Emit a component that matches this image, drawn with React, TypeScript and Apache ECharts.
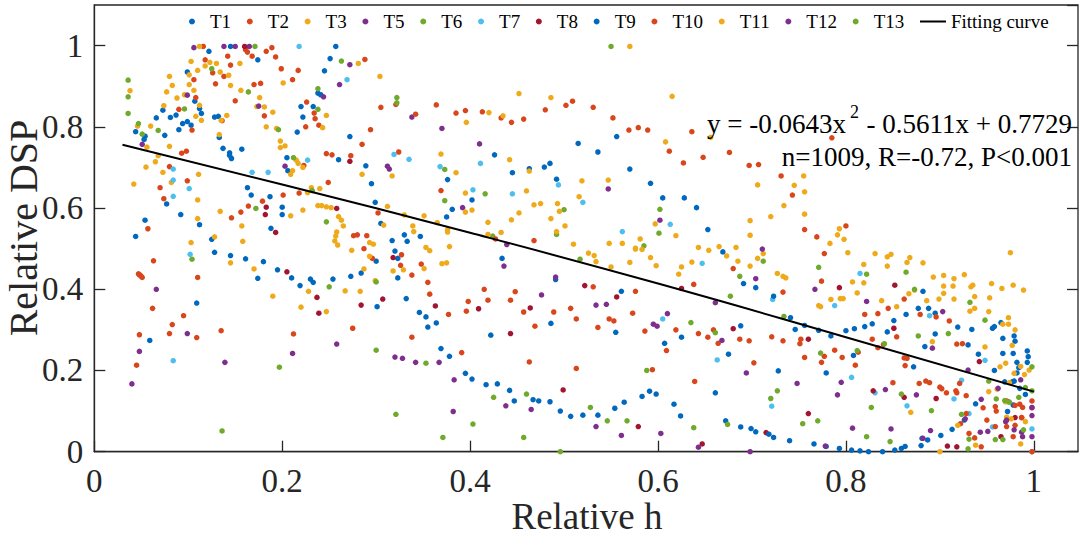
import React, { useEffect, useRef } from "react";
import * as echarts from "echarts";

const FONT = '"Liberation Serif", "Times New Roman", serif';

const T1 = [[0.122,0.986],[0.174,0.965],[0.257,0.998],[0.145,0.998],[0.251,0.968],[0.245,0.938],[0.099,0.935],[0.107,0.863],[0.112,0.845],[0.114,0.833],[0.073,0.841],[0.066,0.822],[0.081,0.823],[0.087,0.829],[0.094,0.808],[0.099,0.813],[0.103,0.804],[0.090,0.793],[0.044,0.788],[0.054,0.777],[0.053,0.769],[0.075,0.779],[0.128,0.824],[0.132,0.826],[0.133,0.774],[0.137,0.747],[0.144,0.736],[0.146,0.722],[0.144,0.730],[0.157,0.745],[0.220,0.850],[0.222,0.824],[0.216,0.787],[0.233,0.850],[0.238,0.883],[0.241,0.879],[0.272,0.776],[0.260,0.719],[0.205,0.724],[0.206,0.692],[0.289,0.704],[0.295,0.660],[0.299,0.614],[0.305,0.562],[0.317,0.520],[0.330,0.534],[0.333,0.518],[0.163,0.650],[0.167,0.632],[0.187,0.628],[0.200,0.602],[0.200,0.584],[0.188,0.550],[0.112,0.559],[0.092,0.584],[0.054,0.570],[0.077,0.610],[0.044,0.530],[0.125,0.523],
[0.515,0.759],[0.536,0.738],[0.556,0.776],[0.426,0.731],[0.445,0.687],[0.463,0.697],[0.479,0.701],[0.485,0.710],[0.492,0.671],[0.570,0.696],[0.592,0.661],[0.605,0.625],[0.628,0.625],[0.641,0.601],[0.653,0.547],[0.376,0.670],[0.402,0.620],[0.381,0.597],[0.375,0.578],[0.347,0.530],
[0.128,0.491],[0.145,0.483],[0.161,0.475],[0.180,0.468],[0.174,0.427],[0.195,0.448],[0.210,0.428],[0.219,0.409],[0.230,0.425],[0.233,0.417],[0.254,0.425],[0.273,0.432],[0.284,0.440],[0.300,0.469],[0.301,0.357],[0.320,0.494],[0.323,0.476],[0.323,0.428],[0.332,0.377],[0.109,0.366],[0.059,0.274]];

const T2 = [[0.116,0.998],[0.161,0.990],[0.163,0.984],[0.168,0.974],[0.183,0.986],[0.189,0.995],[0.193,0.972],[0.142,0.974],[0.145,0.952],[0.118,0.965],[0.126,0.933],[0.138,0.924],[0.129,0.906],[0.106,0.916],[0.170,0.904],[0.177,0.907],[0.199,0.943],[0.217,0.939],[0.211,0.916],[0.226,0.861],[0.234,0.834],[0.235,0.820],[0.225,0.800],[0.239,0.804],[0.288,0.966],[0.294,0.793],[0.285,0.757],[0.305,0.848],[0.321,0.855],[0.324,0.738],[0.273,0.729],[0.247,0.734],[0.253,0.731],[0.223,0.705],[0.249,0.663],[0.181,0.827],[0.136,0.815],[0.150,0.864],[0.108,0.872],[0.090,0.843],[0.104,0.792],[0.093,0.735],[0.098,0.740],[0.080,0.702],[0.070,0.650],[0.074,0.623],[0.099,0.667],[0.057,0.549],[0.146,0.576],[0.156,0.590],[0.164,0.605],[0.179,0.617],[0.201,0.632],[0.218,0.637],[0.302,0.588],[0.276,0.532],[0.280,0.534],[0.290,0.532],[0.287,0.500],
[0.063,0.470],[0.048,0.436],[0.049,0.434],[0.050,0.432],[0.051,0.429],[0.047,0.438],[0.110,0.429],[0.062,0.353],[0.095,0.335],[0.083,0.313],[0.080,0.291],[0.048,0.288],[0.109,0.281],[0.135,0.298],[0.212,0.290],[0.045,0.213],[0.275,0.304],[0.338,0.282],[0.296,0.476],[0.326,0.459],[0.327,0.485],[0.338,0.435]];

const T3 = [[0.112,0.998],[0.103,0.961],[0.123,0.959],[0.130,0.956],[0.118,0.950],[0.134,0.935],[0.143,0.927],[0.155,0.956],[0.110,0.939],[0.101,0.928],[0.080,0.924],[0.083,0.902],[0.077,0.886],[0.101,0.904],[0.106,0.890],[0.088,0.871],[0.096,0.879],[0.145,0.902],[0.156,0.890],[0.074,0.852],[0.112,0.853],[0.114,0.816],[0.141,0.828],[0.135,0.816],[0.108,0.826],[0.060,0.802],[0.046,0.802],[0.038,0.889],[0.133,0.781],[0.176,0.872],[0.181,0.849],[0.173,0.850],[0.190,0.836],[0.183,0.800],[0.194,0.796],[0.198,0.765],[0.198,0.749],[0.203,0.753],[0.215,0.718],[0.217,0.710],[0.222,0.700],[0.211,0.692],[0.209,0.683],[0.201,0.908],[0.247,0.828],[0.243,0.798],[0.304,0.924],[0.281,0.956],[0.317,0.679],[0.285,0.683],[0.312,0.604],[0.330,0.583],[0.339,0.556],[0.231,0.650],[0.240,0.648],[0.227,0.638],[0.238,0.606],[0.242,0.606],[0.247,0.603],[0.252,0.601],[0.260,0.579],[0.263,0.570],[0.265,0.556],[0.258,0.541],[0.257,0.531],[0.256,0.519],[0.259,0.509],[0.293,0.515],[0.297,0.511],[0.308,0.558],[0.209,0.581],[0.222,0.595],[0.157,0.556],[0.158,0.518],[0.134,0.592],[0.110,0.620],[0.110,0.574],[0.103,0.515],[0.128,0.529],[0.073,0.688],[0.082,0.663],[0.111,0.683],[0.080,0.752],[0.068,0.729],[0.065,0.714],[0.055,0.701],[0.042,0.659],[0.056,0.750],
[0.145,0.465],[0.170,0.450],[0.190,0.383],[0.220,0.356],[0.228,0.395],[0.247,0.345],[0.267,0.396],[0.283,0.395],[0.287,0.450],[0.274,0.496],[0.293,0.481],[0.299,0.421],[0.318,0.445],[0.329,0.448]];

const T5 = [[0.106,0.995],[0.138,0.998],[0.150,0.998],[0.165,0.998],[0.099,0.878],[0.175,0.851],[0.261,0.904],[0.272,0.953],[0.244,0.874],[0.338,0.824],[0.203,0.703],[0.312,0.703],[0.314,0.696],[0.051,0.757],
[0.370,0.796],[0.410,0.758],[0.547,0.647],[0.392,0.601],[0.602,0.570],[0.439,0.510],
[0.066,0.400],[0.048,0.247],[0.040,0.167],[0.099,0.291],[0.139,0.220],[0.211,0.242],[0.258,0.265],[0.320,0.233],[0.328,0.230]];

const T6 = [[0.171,0.998],[0.036,0.915],[0.036,0.874],[0.036,0.833],[0.047,0.808],[0.051,0.782],[0.068,0.791],[0.096,0.844],[0.125,0.943],[0.164,0.886],[0.196,0.793],[0.212,0.724],[0.232,0.643],[0.172,0.599],[0.247,0.566],[0.238,0.843],[0.238,0.894],[0.263,0.962],[0.322,0.872],[0.322,0.859],
[0.550,0.998],[0.373,0.695],[0.373,0.618],[0.416,0.635],[0.500,0.596],[0.492,0.535],[0.424,0.531],[0.602,0.597],[0.601,0.538],[0.585,0.507],
[0.104,0.474],[0.197,0.208],[0.136,0.051],[0.250,0.406],[0.300,0.418],[0.300,0.250],[0.321,0.092]];

const T7 = [[0.218,0.998],[0.269,0.916],[0.084,0.696],[0.084,0.669],[0.084,0.629],[0.101,0.648],[0.168,0.688],[0.185,0.688],[0.227,0.718],[0.319,0.732],[0.335,0.720],
[0.368,0.702],[0.411,0.710],[0.403,0.645],[0.445,0.635],[0.494,0.657],[0.520,0.614],[0.562,0.542],[0.613,0.560],
[0.102,0.486],[0.084,0.224],[0.605,0.327],[0.647,0.464],[0.663,0.226],
[0.815,0.439],[0.788,0.360],[0.722,0.375],[0.889,0.335],[0.806,0.183],[0.831,0.145],[0.721,0.112],[0.865,0.113],[0.915,0.130],[0.923,0.176],[0.931,0.094],[0.956,0.061],[0.948,0.225],[0.979,0.174],[0.973,0.123],[0.998,0.056],[0.998,0.0]];

const T8 = [[0.160,0.998],[0.183,0.602],[0.182,0.584],[0.193,0.540],[0.272,0.715],[0.258,0.599],
[0.205,0.443],[0.237,0.380],[0.239,0.341],[0.284,0.361],[0.307,0.376],[0.318,0.478],
[0.363,0.359],[0.409,0.352],[0.464,0.354],[0.443,0.291],[0.522,0.409],[0.556,0.381],[0.625,0.402],[0.499,0.152],[0.579,0.062],[0.647,0.019],
[0.793,0.404],[0.851,0.304],[0.852,0.410],[0.760,0.277],[0.680,0.303],[0.829,0.150],[0.862,0.134],[0.896,0.131],[0.942,0.222],[0.760,0.094],[0.715,0.047],[0.908,0.014],[0.918,0.012],[0.965,0.037],[0.980,0.084],[0.987,0.084]];

const T9 = [[0.434,0.476],[0.491,0.424],[0.346,0.343],[0.353,0.332],[0.355,0.307],[0.364,0.317],[0.422,0.287],[0.486,0.316],[0.555,0.294],[0.561,0.395],[0.625,0.282],[0.607,0.267],[0.675,0.240],[0.369,0.254],[0.378,0.235],[0.395,0.193],[0.402,0.179],[0.417,0.165],[0.429,0.167],[0.442,0.151],[0.447,0.125],[0.467,0.128],[0.473,0.125],[0.485,0.123],[0.496,0.100],[0.507,0.087],[0.520,0.090],[0.536,0.090],[0.554,0.107],[0.564,0.122],[0.583,0.136],[0.591,0.149],[0.598,0.142],[0.617,0.117],[0.624,0.088],[0.661,0.145],[0.672,0.076],
[0.669,0.492],[0.691,0.414],[0.704,0.404],[0.723,0.383],[0.741,0.330],[0.688,0.310],[0.746,0.301],[0.756,0.311],[0.771,0.299],[0.784,0.285],[0.800,0.298],[0.809,0.303],[0.820,0.308],[0.828,0.315],[0.844,0.295],[0.851,0.323],[0.864,0.338],[0.877,0.353],[0.882,0.395],[0.888,0.353],[0.895,0.341],[0.895,0.290],[0.919,0.307],[0.930,0.263],[0.934,0.301],[0.884,0.259],[0.956,0.304],[0.958,0.308],[0.965,0.318],[0.967,0.279],[0.979,0.285],[0.980,0.272],[0.967,0.242],[0.978,0.242],[0.993,0.248],[0.994,0.234],[0.993,0.220],[0.982,0.220],[0.984,0.207],[0.941,0.240],[0.958,0.200],[0.982,0.194],[0.979,0.174],[0.977,0.172],[0.969,0.172],[0.985,0.156],[0.978,0.115],[0.991,0.141],[0.972,0.099],[0.938,0.118],[0.926,0.078],[0.913,0.055],[0.901,0.040],[0.887,0.029],[0.880,0.015],[0.872,0.209],[0.779,0.194],[0.808,0.237],[0.728,0.199],[0.688,0.061],[0.699,0.057],[0.704,0.049],[0.718,0.043],[0.723,0.035],[0.740,0.027],[0.766,0.019],[0.779,0.013],[0.793,0.008],[0.806,0.004],[0.815,0.002],[0.824,0.0],[0.839,0.0],[0.852,0.004],[0.859,0.008],[0.863,0.013],[0.881,0.033]];

const T10 = [[0.364,0.854],[0.342,0.831],[0.385,0.834],[0.395,0.840],[0.413,0.837],[0.433,0.822],[0.444,0.811],[0.457,0.819],[0.480,0.842],[0.502,0.853],[0.509,0.863],[0.531,0.848],[0.552,0.822],[0.569,0.792],[0.579,0.798],[0.589,0.792],[0.612,0.740],[0.636,0.788],[0.648,0.725],[0.627,0.711],[0.369,0.643],[0.468,0.520],[0.427,0.524],
[0.676,0.737],[0.785,0.773],[0.697,0.705],[0.707,0.707],[0.731,0.679],[0.743,0.632],[0.756,0.547],[0.769,0.529],[0.800,0.556],
[0.348,0.462],[0.355,0.417],[0.357,0.388],[0.377,0.338],[0.391,0.244],[0.398,0.370],[0.396,0.346],[0.415,0.400],[0.419,0.373],[0.443,0.373],[0.448,0.394],[0.457,0.344],[0.469,0.309],[0.489,0.344],[0.507,0.353],[0.513,0.327],[0.531,0.406],[0.548,0.327],[0.553,0.322],[0.536,0.306],[0.573,0.341],[0.576,0.395],[0.586,0.297],[0.609,0.249],[0.619,0.300],[0.638,0.412],[0.643,0.291],[0.653,0.282],[0.659,0.300],[0.664,0.267],[0.463,0.221],[0.513,0.205],[0.594,0.202],[0.639,0.173],
[0.680,0.451],[0.733,0.393],[0.774,0.420],[0.777,0.488],[0.862,0.376],[0.845,0.353],[0.834,0.340],[0.820,0.338],[0.879,0.338],[0.896,0.332],[0.910,0.322],[0.918,0.265],[0.924,0.266],[0.854,0.283],[0.840,0.264],[0.834,0.256],[0.828,0.277],[0.862,0.231],[0.865,0.230],[0.863,0.212],[0.721,0.283],[0.733,0.273],[0.752,0.277],[0.751,0.266],[0.756,0.232],[0.687,0.277],[0.697,0.273],[0.702,0.219],[0.777,0.235],[0.774,0.220],[0.788,0.250],[0.796,0.232],[0.810,0.213],[0.813,0.245],[0.850,0.170],[0.878,0.168],[0.885,0.174],[0.889,0.170],[0.900,0.159],[0.907,0.145],[0.917,0.150],[0.918,0.145],[0.921,0.168],[0.928,0.138],[0.946,0.108],[0.959,0.111],[0.960,0.100],[0.971,0.125],[0.980,0.114],[0.985,0.117],[0.988,0.109],[0.998,0.125],[0.998,0.108],[0.987,0.084],[0.980,0.065],[0.978,0.037],[0.971,0.062],[0.950,0.078],[0.959,0.062],[0.937,0.034],[0.931,0.045],[0.922,0.069],[0.928,0.094],[0.944,0.012],[0.998,0.0],[0.902,0.155]];

const T11 = [[0.570,0.998],[0.452,0.882],[0.486,0.872],[0.420,0.835],[0.435,0.827],[0.396,0.811],[0.615,0.875],[0.608,0.763],[0.656,0.774],[0.369,0.733],[0.442,0.719],[0.385,0.687],[0.463,0.691],[0.519,0.667],[0.547,0.669],[0.395,0.637],[0.460,0.642],[0.516,0.628],[0.468,0.608],[0.475,0.611],[0.493,0.611],[0.495,0.592],[0.402,0.595],[0.395,0.590],[0.351,0.581],[0.452,0.588],[0.444,0.571],[0.419,0.565],[0.486,0.574],[0.501,0.556],[0.340,0.542],[0.365,0.564],[0.376,0.546],[0.376,0.541],[0.419,0.535],[0.433,0.540],[0.492,0.542],[0.510,0.511],[0.548,0.513],[0.562,0.513],[0.597,0.561],[0.619,0.532],[0.581,0.524],[0.576,0.501],[0.378,0.505],[0.353,0.503],[0.643,0.503],[0.665,0.505],
[0.755,0.679],[0.745,0.656],[0.706,0.657],[0.756,0.640],[0.734,0.606],[0.756,0.585],[0.720,0.579],[0.698,0.569],[0.698,0.533],[0.793,0.549],[0.791,0.534],[0.798,0.523],[0.783,0.513],[0.683,0.503],
[0.357,0.495],[0.351,0.451],[0.370,0.463],[0.375,0.465],[0.526,0.489],[0.532,0.483],[0.534,0.468],[0.550,0.455],[0.570,0.466],[0.576,0.499],[0.583,0.498],[0.592,0.478],[0.598,0.458],[0.622,0.437],[0.625,0.455],[0.636,0.467],[0.654,0.496],
[0.673,0.482],[0.685,0.469],[0.698,0.457],[0.706,0.476],[0.712,0.488],[0.727,0.439],[0.733,0.432],[0.736,0.428],[0.802,0.490],[0.831,0.488],[0.844,0.480],[0.848,0.486],[0.844,0.457],[0.865,0.466],[0.868,0.478],[0.882,0.465],[0.975,0.490],[0.819,0.461],[0.807,0.418],[0.819,0.416],[0.812,0.391],[0.784,0.375],[0.794,0.377],[0.797,0.377],[0.771,0.360],[0.773,0.357],[0.838,0.372],[0.854,0.357],[0.867,0.389],[0.873,0.398],[0.886,0.372],[0.893,0.430],[0.904,0.434],[0.915,0.426],[0.926,0.436],[0.904,0.408],[0.914,0.408],[0.904,0.390],[0.899,0.376],[0.915,0.376],[0.933,0.406],[0.935,0.410],[0.937,0.382],[0.932,0.346],[0.937,0.353],[0.953,0.379],[0.952,0.345],[0.955,0.414],[0.966,0.402],[0.978,0.410],[0.989,0.398],[0.892,0.271],[0.948,0.258],[0.973,0.330],[0.973,0.314],[0.967,0.314],[0.980,0.300],[0.977,0.262],[0.970,0.218],[0.964,0.209],[0.986,0.210],[0.995,0.201],[0.990,0.190],[0.979,0.193],[0.974,0.170],[0.961,0.154],[0.970,0.123],[0.976,0.081],[0.991,0.074],[0.986,0.019],[0.971,0.085],[0.938,0.016],[0.952,0.148],[0.869,0.097],[0.919,0.065],[0.900,0.0]];

const T12 = [[0.436,0.457],[0.491,0.430],[0.476,0.386],[0.534,0.361],[0.545,0.363],[0.595,0.314],[0.599,0.309],[0.610,0.340],[0.661,0.367],[0.668,0.274],[0.342,0.220],[0.367,0.220],[0.383,0.177],[0.382,0.099],[0.438,0.113],[0.465,0.104],[0.534,0.062],[0.561,0.040],[0.603,0.045],[0.643,0.011],
[0.711,0.499],[0.704,0.426],[0.767,0.400],[0.822,0.370],[0.903,0.345],[0.694,0.194],[0.748,0.168],[0.795,0.171],[0.791,0.140],[0.842,0.153],[0.875,0.140],[0.930,0.201],[0.986,0.177],[0.962,0.156],[0.944,0.129],[0.998,0.109],[0.998,0.089],[0.998,0.037],[0.987,0.048],[0.988,0.037],[0.979,0.054],[0.971,0.078],[0.970,0.074],[0.951,0.050],[0.943,0.048],[0.927,0.081],[0.890,0.052],[0.882,0.033],[0.848,0.056],[0.807,0.058],[0.778,0.014],[0.698,0.0],[0.892,0.255]];

const T13 = [[0.517,0.474],[0.353,0.218],[0.425,0.134],[0.460,0.142],[0.403,0.068],[0.371,0.035],[0.457,0.035],[0.496,0.0],[0.528,0.109],[0.546,0.076],[0.567,0.076],[0.588,0.200],[0.635,0.318],[0.661,0.293],[0.638,0.059],[0.674,0.067],
[0.677,0.383],[0.687,0.432],[0.712,0.469],[0.771,0.454],[0.822,0.437],[0.864,0.442],[0.873,0.400],[0.932,0.368],[0.948,0.324],[0.909,0.291],[0.877,0.285],[0.841,0.266],[0.812,0.249],[0.773,0.243],[0.734,0.333],[0.727,0.150],[0.720,0.131],[0.770,0.076],[0.754,0.069],[0.827,0.109],[0.859,0.142],[0.891,0.101],[0.923,0.092],[0.931,0.031],[0.952,0.174],[0.960,0.130],[0.969,0.126],[0.974,0.122],[0.984,0.134],[0.991,0.158],[0.998,0.209],[0.998,0.150],[0.959,0.030],[0.967,0.030],[0.989,0.054],[0.822,0.037],[0.847,0.025],[0.930,0.007]];

// fitting curve
const FIT = [[0.03,0.756],[0.2,0.658],[0.4,0.539],[0.6,0.414],[0.8,0.282],[1.0,0.148]];

const SERIES_NAMES = ["T1","T2","T3","T5","T6","T7","T8","T9","T10","T11","T12","T13"];
const SERIES_DATA = [T1,T2,T3,T5,T6,T7,T8,T9,T10,T11,T12,T13];
const COLORS = ["#0068BE","#D9461B","#EEAA1A","#7E2F8E","#6FAA2C","#4DBEEE","#A2142F","#0068BE","#D9461B","#EEAA1A","#7E2F8E","#6FAA2C"];

const EQ_LEFT = "y = -0.0643x";
const EQ_SUP = "2";
const EQ_RIGHT = "- 0.5611x + 0.7729";
const STATS = "n=1009, R=-0.72, P<0.001";

export default function App() {
  const ref = useRef<HTMLDivElement>(null);
  useEffect(() => {
    if (!ref.current) return;
    const chart = echarts.init(ref.current, undefined, { renderer: "svg" });
    const axisColor = "#262626";
    const scatter = SERIES_NAMES.map((n, i) => ({
      name: n,
      type: "scatter",
      data: SERIES_DATA[i],
      symbolSize: 5.5,
      itemStyle: { color: COLORS[i], opacity: 1 },
      emphasis: { disabled: true },
      z: 2,
    }));
    const tickFmt = (v: number) => (v > 1.0001 ? "" : String(+v.toFixed(1)));
    chart.setOption({
      animation: false,
      grid: { left: 94.3, right: 6, top: 5, bottom: 85.3, show: true, borderColor: axisColor, borderWidth: 1.3, backgroundColor: "#fff" },
      legend: {
        left: 189,
        top: 12,
        padding: 0,
        itemGap: 15.7,
        itemWidth: 26,
        itemHeight: 6,
        textStyle: { fontFamily: FONT, fontSize: 19, color: "#000" },
        data: [
          ...SERIES_NAMES.map((n) => ({ name: n, icon: "circle" })),
          { name: "Fitting curve", icon: "path://M0,0H26V2H0Z" },
        ],
      },
      xAxis: {
        type: "value",
        min: 0,
        max: 1.047,
        interval: 0.2,
        axisLine: { show: true, lineStyle: { color: axisColor, width: 1.3 } },
        axisTick: { show: true, inside: true, length: 11, lineStyle: { color: axisColor, width: 1.3 } },
        splitLine: { show: false },
        axisLabel: { fontFamily: FONT, fontSize: 33, color: axisColor, margin: 13, showMaxLabel: false, formatter: tickFmt },
      },
      yAxis: [
        {
          type: "value",
          min: 0,
          max: 1.1,
          interval: 0.2,
          axisLine: { show: true, lineStyle: { color: axisColor, width: 1.3 } },
          axisTick: { show: true, inside: true, length: 11, lineStyle: { color: axisColor, width: 1.3 } },
          splitLine: { show: false },
          axisLabel: { fontFamily: FONT, fontSize: 33, color: axisColor, margin: 11, showMaxLabel: false, formatter: tickFmt },
        },
        {
          type: "value",
          position: "right",
          min: 0,
          max: 1.1,
          interval: 0.2,
          axisLine: { show: false },
          axisTick: { show: true, inside: true, length: 11, lineStyle: { color: axisColor, width: 1.3 } },
          splitLine: { show: false },
          axisLabel: { show: false },
        },
      ],
      series: [
        ...scatter,
        {
          name: "Fitting curve",
          type: "line",
          data: FIT,
          smooth: true,
          showSymbol: false,
          symbol: "none",
          lineStyle: { color: "#000", width: 2 },
          itemStyle: { color: "#000" },
          z: 5,
        },
      ],
      graphic: [
        { type: "text", x: 587, y: 516, style: { text: "Relative h", fontFamily: FONT, fontSize: 37, fill: axisColor, align: "center", verticalAlign: "middle" } },
        { type: "text", x: 23, y: 228, rotation: Math.PI / 2, style: { text: "Relative DSP", fontFamily: FONT, fontSize: 40, fill: axisColor, align: "center", verticalAlign: "middle" } },
        { type: "text", x: 846, y: 124, z: 10, style: { text: EQ_LEFT, fontFamily: FONT, fontSize: 27, fill: "#000", align: "right", verticalAlign: "middle" } },
        { type: "text", x: 850, y: 112, z: 10, style: { text: EQ_SUP, fontFamily: FONT, fontSize: 18, fill: "#000", align: "left", verticalAlign: "middle" } },
        { type: "text", x: 1072, y: 124, z: 10, style: { text: EQ_RIGHT, fontFamily: FONT, fontSize: 27, fill: "#000", align: "right", verticalAlign: "middle" } },
        { type: "text", x: 1072, y: 157, z: 10, style: { text: STATS, fontFamily: FONT, fontSize: 27, fill: "#000", align: "right", verticalAlign: "middle" } },
      ],
    });
    return () => chart.dispose();
  }, []);
  return <div ref={ref} style={{ position: "absolute", left: 0, top: 0, width: 1084, height: 537, background: "#fff" }} />;
}
